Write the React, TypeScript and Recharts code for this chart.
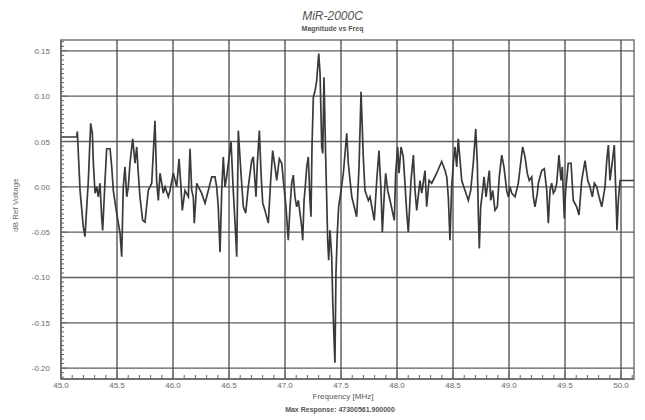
import { LineChart, Line, XAxis, YAxis, ReferenceLine, ReferenceArea } from 'recharts';

// frequency (MHz) of each sample
const freqs = [
  45.000, 45.140, 45.146, 45.170, 45.199, 45.214, 45.244, 45.265, 45.280, 45.289,
  45.304, 45.319, 45.333, 45.348, 45.363, 45.372, 45.393, 45.408, 45.438, 45.453,
  45.467, 45.497, 45.527, 45.542, 45.556, 45.571, 45.587, 45.601, 45.616, 45.640,
  45.661, 45.676, 45.690, 45.705, 45.729, 45.750, 45.779, 45.810, 45.839, 45.854,
  45.869, 45.884, 45.899, 45.913, 45.929, 45.958, 45.973, 46.003, 46.033, 46.054,
  46.071, 46.083, 46.107, 46.137, 46.152, 46.167, 46.181, 46.190, 46.212, 46.226,
  46.256, 46.286, 46.315, 46.346, 46.375, 46.390, 46.404, 46.420, 46.435, 46.449,
  46.464, 46.479, 46.494, 46.518, 46.538, 46.554, 46.569, 46.583, 46.607, 46.628,
  46.649, 46.672, 46.703, 46.717, 46.741, 46.753, 46.771, 46.786, 46.801, 46.821,
  46.851, 46.872, 46.890, 46.911, 46.926, 46.949, 46.971, 46.985, 47.009, 47.029,
  47.045, 47.060, 47.074, 47.089, 47.104, 47.119, 47.134, 47.149, 47.158, 47.170,
  47.181, 47.194, 47.208, 47.223, 47.232, 47.241, 47.253, 47.268, 47.283, 47.301,
  47.313, 47.328, 47.337, 47.348, 47.363, 47.372, 47.381, 47.390, 47.402, 47.417,
  47.426, 47.438, 47.446, 47.455, 47.467, 47.479, 47.497, 47.521, 47.551, 47.565,
  47.596, 47.640, 47.661, 47.679, 47.699, 47.714, 47.744, 47.759, 47.797, 47.819,
  47.839, 47.857, 47.869, 47.887, 47.899, 47.917, 47.938, 47.976, 47.988, 48.006,
  48.018, 48.036, 48.056, 48.071, 48.087, 48.101, 48.125, 48.146, 48.161, 48.176,
  48.205, 48.221, 48.250, 48.265, 48.286, 48.310, 48.354, 48.399, 48.429, 48.444,
  48.458, 48.473, 48.488, 48.503, 48.518, 48.533, 48.547, 48.563, 48.578, 48.607,
  48.637, 48.658, 48.681, 48.703, 48.717, 48.726, 48.735, 48.747, 48.765, 48.777,
  48.795, 48.806, 48.824, 48.837, 48.854, 48.875, 48.896, 48.913, 48.935, 48.955,
  48.979, 48.994, 49.009, 49.024, 49.054, 49.083, 49.104, 49.122, 49.143, 49.163,
  49.181, 49.203, 49.217, 49.232, 49.253, 49.262, 49.292, 49.315, 49.337, 49.351,
  49.366, 49.381, 49.396, 49.411, 49.426, 49.446, 49.464, 49.476, 49.494, 49.506,
  49.529, 49.554, 49.574, 49.604, 49.625, 49.649, 49.679, 49.703, 49.723, 49.744,
  49.762, 49.783, 49.804, 49.828, 49.857, 49.872, 49.887, 49.902, 49.917, 49.940,
  49.953, 49.964, 49.976, 49.991, 50.116,
];

// magnitude (dB ref voltage) at each frequency
const dbRef = [
  0.055, 0.055, 0.061, -0.004, -0.044, -0.055, 0.007, 0.070, 0.059, 0.026,
  -0.007, 0.000, -0.011, 0.004, -0.033, -0.048, 0.007, 0.042, 0.042, 0.022,
  -0.004, -0.029, -0.051, -0.077, 0.000, 0.022, -0.011, 0.000, 0.026, 0.053,
  0.026, 0.044, 0.015, -0.011, -0.037, -0.039, -0.004, 0.004, 0.073, 0.007,
  -0.015, 0.015, 0.004, -0.007, 0.000, -0.011, -0.004, 0.015, 0.000, 0.031,
  0.000, -0.026, -0.004, -0.011, 0.042, -0.004, -0.011, -0.040, 0.004, 0.000,
  -0.007, -0.018, -0.004, 0.011, 0.011, 0.000, -0.022, -0.072, -0.004, 0.033,
  0.000, 0.011, 0.026, 0.050, -0.004, -0.040, -0.077, 0.062, 0.015, -0.022,
  -0.029, 0.000, 0.029, 0.033, -0.011, 0.026, 0.062, 0.015, -0.018, -0.026,
  -0.040, 0.007, 0.040, 0.022, 0.007, 0.031, 0.026, 0.007, -0.022, -0.059,
  -0.022, 0.004, 0.013, -0.011, -0.022, -0.015, -0.029, -0.044, -0.059, -0.015,
  0.000, 0.022, 0.033, -0.015, -0.033, 0.044, 0.099, 0.106, 0.117, 0.147,
  0.125, 0.044, 0.037, 0.121, 0.033, -0.011, -0.059, -0.081, -0.048, -0.077,
  -0.125, -0.169, -0.194, -0.095, -0.051, -0.022, -0.007, 0.015, 0.059, 0.026,
  -0.011, -0.033, 0.022, 0.105, 0.033, -0.004, -0.015, -0.011, -0.037, 0.007,
  0.040, -0.004, -0.050, -0.007, 0.015, -0.004, -0.015, -0.037, 0.015, 0.044,
  0.015, 0.044, 0.033, 0.004, -0.029, -0.050, 0.007, 0.035, -0.004, -0.026,
  0.007, -0.007, 0.018, -0.022, 0.007, 0.004, 0.015, 0.028, 0.018, 0.011,
  -0.011, -0.059, 0.000, 0.026, 0.044, 0.022, 0.053, 0.029, 0.007, -0.004,
  -0.015, -0.004, 0.026, 0.064, 0.026, -0.029, -0.068, -0.022, -0.004, 0.011,
  -0.011, 0.000, 0.018, -0.015, -0.004, -0.026, -0.022, 0.011, 0.035, 0.022,
  -0.004, -0.011, 0.000, -0.007, -0.011, 0.004, 0.026, 0.044, 0.033, 0.015,
  0.007, 0.011, -0.011, -0.022, -0.007, 0.004, 0.018, 0.020, -0.004, -0.040,
  -0.004, 0.004, -0.007, -0.004, 0.004, 0.035, 0.007, 0.022, -0.035, -0.004,
  0.026, 0.026, -0.015, -0.022, -0.031, 0.007, 0.029, 0.007, 0.000, -0.011,
  0.004, 0.000, -0.011, -0.022, 0.000, 0.028, 0.046, 0.007, 0.022, 0.046,
  -0.004, -0.048, -0.015, 0.007, 0.007,
];

const xMajor = [45.0, 45.5, 46.0, 46.5, 47.0, 47.5, 48.0, 48.5, 49.0, 49.5, 50.0];
const xLabels = ['45.0', '45.5', '46.0', '46.5', '47.0', '47.5', '48.0', '48.5', '49.0', '49.5', '50.0'];
const yMajor = [0.15, 0.1, 0.05, 0, -0.05, -0.1, -0.15, -0.2];
const yLabels = ['0.15', '0.10', '0.05', '0.00', '-0.05', '-0.10', '-0.15', '-0.20'];

const xDomain = [45.0, 50.116];
const yDomain = [-0.212, 0.162];

const data = freqs.map((f, i) => ({ f, v: dbRef[i] }));

// minor ticks: 0.1 MHz and 0.005 dB steps
const xTicks: number[] = [];
for (let k = 450; k <= 501; k++) xTicks.push(k / 10);
const yTicks: number[] = [];
for (let k = -42; k <= 32; k++) yTicks.push(k / 200);

const near = (a: number, b: number) => Math.abs(a - b) < 1e-6;
const fontFamily = '"Liberation Sans", Arial, sans-serif';
const axisColor = '#666';
const labelColor = '#6a6a6a';

const YTick = (props: any) => {
  const { x, y, payload } = props;
  const idx = yMajor.findIndex((m) => near(m, payload.value));
  const major = idx >= 0;
  return (
    <g>
      <line x1={x} x2={x + (major ? 6 : 3)} y1={y} y2={y} stroke={axisColor} strokeWidth={1} />
      {major && (
        <text x={x - 11} y={y + 3} textAnchor="end" fontSize={8} fill={labelColor} fontFamily={fontFamily}>
          {yLabels[idx]}
        </text>
      )}
    </g>
  );
};

const XTick = (props: any) => {
  const { x, y, payload } = props;
  const idx = xMajor.findIndex((m) => near(m, payload.value));
  const major = idx >= 0;
  return (
    <g>
      <line x1={x} x2={x} y1={y} y2={y - (major ? 7 : 4)} stroke={axisColor} strokeWidth={1} />
      {major && (
        <text x={x} y={y + 9} textAnchor="middle" fontSize={8} fill={labelColor} fontFamily={fontFamily}>
          {xLabels[idx]}
        </text>
      )}
    </g>
  );
};

export default function App() {
  return (
    <div style={{ position: 'absolute', left: 0, top: 0, width: 645, height: 420, background: '#fff', fontFamily }}>
      <div style={{ position: 'absolute', top: 9, left: 0, width: 665, textAlign: 'center', fontSize: 12, fontStyle: 'italic', color: '#555' }}>
        MiR-2000C
      </div>
      <div style={{ position: 'absolute', top: 25, left: 0, width: 665, textAlign: 'center', fontSize: 7, fontWeight: 'bold', color: '#555' }}>
        Magnitude vs Freq
      </div>
      <div
        style={{
          position: 'absolute', left: 15, top: 205, fontSize: 8, color: labelColor, whiteSpace: 'nowrap',
          transform: 'translate(-50%, -50%) rotate(-90deg)',
        }}
      >
        dB Ref Voltage
      </div>
      <div style={{ position: 'absolute', top: 392, left: 0, width: 686, textAlign: 'center', fontSize: 8, lineHeight: '9px', color: '#555' }}>
        Frequency [MHz]
      </div>
      <div style={{ position: 'absolute', top: 406, left: 0, width: 680, textAlign: 'center', fontSize: 7, lineHeight: '8px', fontWeight: 'bold', color: '#555' }}>
        Max Response: 47300561.900000
      </div>
      <LineChart width={645} height={420} data={data} margin={{ top: 40, right: 11, left: 16, bottom: 21 }}>
        <XAxis
          dataKey="f"
          type="number"
          domain={xDomain}
          ticks={xTicks}
          interval={0}
          allowDataOverflow
          height={20}
          tickSize={0}
          tickMargin={0}
          tick={<XTick />}
          axisLine={{ stroke: axisColor, strokeWidth: 1.5 }}
          tickLine={false}
        />
        <YAxis
          type="number"
          domain={yDomain}
          ticks={yTicks}
          interval={0}
          allowDataOverflow
          width={45}
          tickSize={0}
          tickMargin={0}
          tick={<YTick />}
          axisLine={{ stroke: axisColor, strokeWidth: 1.5 }}
          tickLine={false}
        />
        <ReferenceArea
          x1={xDomain[0]}
          x2={xDomain[1]}
          y1={yDomain[0]}
          y2={yDomain[1]}
          fill="none"
          stroke="#777"
          strokeWidth={1.5}
        />
        {yMajor.map((v) => (
          <ReferenceLine key={'h' + v} y={v} stroke="#5c5c5c" strokeWidth={1.3} />
        ))}
        {xMajor.slice(1).map((v) => (
          <ReferenceLine key={'v' + v} x={v} stroke="#4a4a4a" strokeWidth={1.3} />
        ))}
        <Line
          type="linear"
          dataKey="v"
          stroke="#3a3a3a"
          strokeWidth={1.7}
          dot={false}
          isAnimationActive={false}
        />
      </LineChart>
    </div>
  );
}
